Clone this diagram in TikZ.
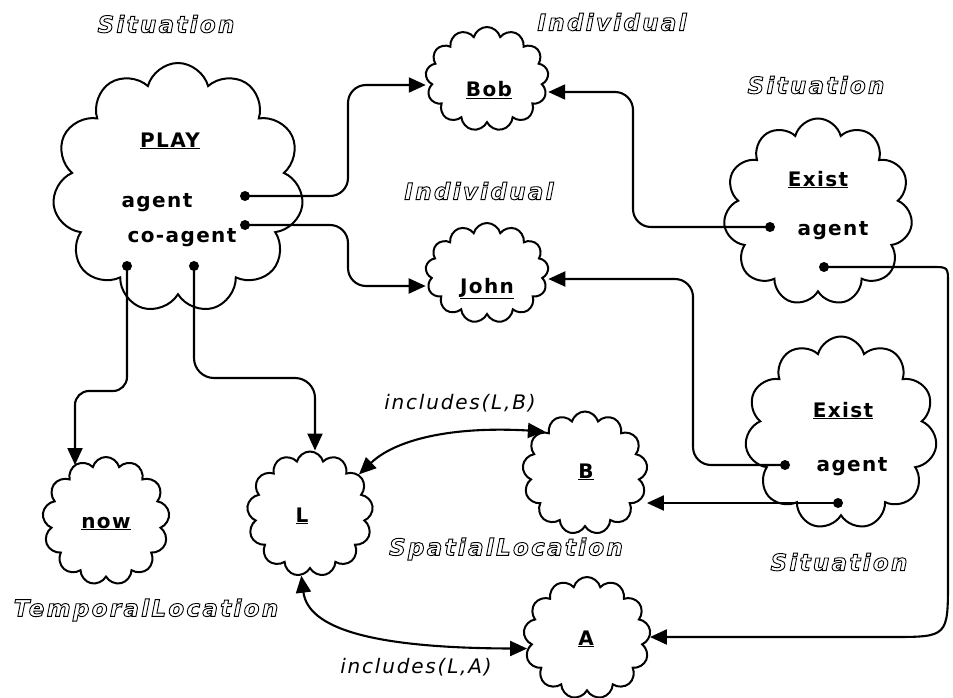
\documentclass[tikz,border=0pt]{standalone}
\usepackage{fontspec}
\setmainfont{DejaVu Sans}
\newfontfamily\bodyfont[LetterSpace=7]{DejaVu Sans}
\newfontfamily\labfont[LetterSpace=10]{DejaVu Sans}
\newfontfamily\incfont[LetterSpace=9]{DejaVu Sans}
\usetikzlibrary{shapes.symbols,arrows.meta}
\newcommand\outlinetext[1]{\special{pdf:literal direct 1 Tr 0.9 w}#1\special{pdf:literal direct 0 Tr}}
\tikzset{
  cloudbox/.style={draw, line width=2pt, shape=cloud, cloud puffs=13, cloud puff arc=150, cloud ignores aspect, inner sep=0pt},
  bigcloud/.style={cloudbox, cloud puffs=11},
  bodytext/.style={font=\bodyfont\bfseries\fontsize{20}{24}\selectfont, inner sep=0pt, anchor=base},
  typelabel/.style={font=\labfont\bfseries\itshape\fontsize{23}{27}\selectfont, inner sep=0pt},
  rellabel/.style={font=\incfont\itshape\fontsize{20}{24}\selectfont, inner sep=0pt},
  dotmark/.style={circle, fill, inner sep=0pt, minimum size=10pt},
  conn/.style={line width=2.1pt, rounded corners=18pt, -{Triangle[length=17pt,width=15pt]}},
  biconn/.style={line width=2.1pt, {Triangle[length=17pt,width=15pt]}-{Triangle[length=17pt,width=15pt]}}
}
\begin{document}
\begin{tikzpicture}[x=1pt,y=-1pt]
\useasboundingbox (0,0) rectangle (953,698);
\fill[white] (0,0) rectangle (953,698);
% clouds
\node[bigcloud, minimum width=251pt, minimum height=250pt] (Play) at (178,188) {};
\node[cloudbox, minimum width=123pt, minimum height=104pt] (Bob) at (487,79) {};
\node[cloudbox, minimum width=123pt, minimum height=100pt] (John) at (487,273) {};
\node[bigcloud, minimum width=189pt, minimum height=187pt] (ExistA) at (818,212) {};
\node[bigcloud, minimum width=192pt, minimum height=193pt] (ExistB) at (841,433) {};
\node[cloudbox, minimum width=125pt, minimum height=123pt] (B) at (585,473) {};
\node[cloudbox, minimum width=126pt, minimum height=125pt] (L) at (310,514) {};
\node[cloudbox, minimum width=127pt, minimum height=122pt] (A) at (587,638) {};
\node[cloudbox, minimum width=127pt, minimum height=128pt] (now) at (106,521) {};
% texts inside clouds
\node[bodytext] (tPlay) at (170,147) {\underline{PLAY}};
\node[bodytext] (tAgent) at (157,207) {agent};
\node[bodytext] (tCoAgent) at (182,242) {co-agent};
\node[bodytext] (tBob) at (489,97) {\underline{Bob}};
\node[bodytext] (tJohn) at (487,293) {\underline{John}};
\node[bodytext] (tExistA) at (818,186) {\underline{Exist}};
\node[bodytext] (tAgentA) at (833,235) {agent};
\node[bodytext] (tExistB) at (843,417) {\underline{Exist}};
\node[bodytext] (tAgentB) at (852,471) {agent};
\node[bodytext] (tB) at (586,478) {\underline{B}};
\node[bodytext] (tL) at (302,522) {\underline{L}};
\node[bodytext] (tA) at (586,645) {\underline{A}};
\node[bodytext] (tNow) at (106,528) {\underline{now}};
% type labels
\node[typelabel] (lSitA) at (166,24) {\outlinetext{Situation}};
\node[typelabel] (lIndA) at (612,22) {\outlinetext{Individual}};
\node[typelabel] (lSitB) at (816,85) {\outlinetext{Situation}};
\node[typelabel] (lIndB) at (479,191) {\outlinetext{Individual}};
\node[typelabel] (lSpat) at (506,549) {\outlinetext{SpatialLocation}};
\node[typelabel] (lSitC) at (839,562) {\outlinetext{Situation}};
\node[typelabel] (lTemp) at (146,610) {\outlinetext{TemporalLocation}};
\node[rellabel] (rLB) at (460,403) {includes(L,B)};
\node[rellabel] (rLA) at (416,667) {includes(L,A)};
% dots
\node[dotmark] (d1) at (245,196) {};
\node[dotmark] (d2) at (245,225) {};
\node[dotmark] (d3) at (127,266) {};
\node[dotmark] (d4) at (194,266) {};
\node[dotmark] (e1) at (770,227) {};
\node[dotmark] (e2) at (824,267) {};
\node[dotmark] (f1) at (785,465) {};
\node[dotmark] (f2) at (838,503) {};
% connectors
\draw[conn] (d1.center) -- (348,196) -- (348,85) -- (Bob.west |- 0,85);
\draw[conn] (d2.center) -- (348,225) -- (348,286) -- (John.west |- 0,286);
\draw[conn] (e1.center) -- (633,227) -- (633,92) -- (Bob.east |- 0,92);
\draw[conn] (f1.center) -- (693,465) -- (693,279) -- (John.east |- 0,279);
\draw[conn, sharp corners] (e2.center) -- (932,267) .. controls (948,267) .. (948,283) -- (948,580) .. controls (948,637) .. (891,637) -- (A.east |- 0,637);
\draw[conn] (f2.center) -- (B.east |- 0,503);
\draw[conn, rounded corners=14pt] (d3.center) -- (127,391) -- (75,391) -- (75,0 |- now.120);
\draw[conn, rounded corners=20pt] (d4.center) -- (194,378) -- (315,378) -- (315,0 |- L.north);
\draw[biconn] (L.39) .. controls (395,440) and (450,426) .. (B.134);
\draw[biconn] (L.262) .. controls (308,628) and (370,648) .. (A.190);
\end{tikzpicture}
\end{document}
